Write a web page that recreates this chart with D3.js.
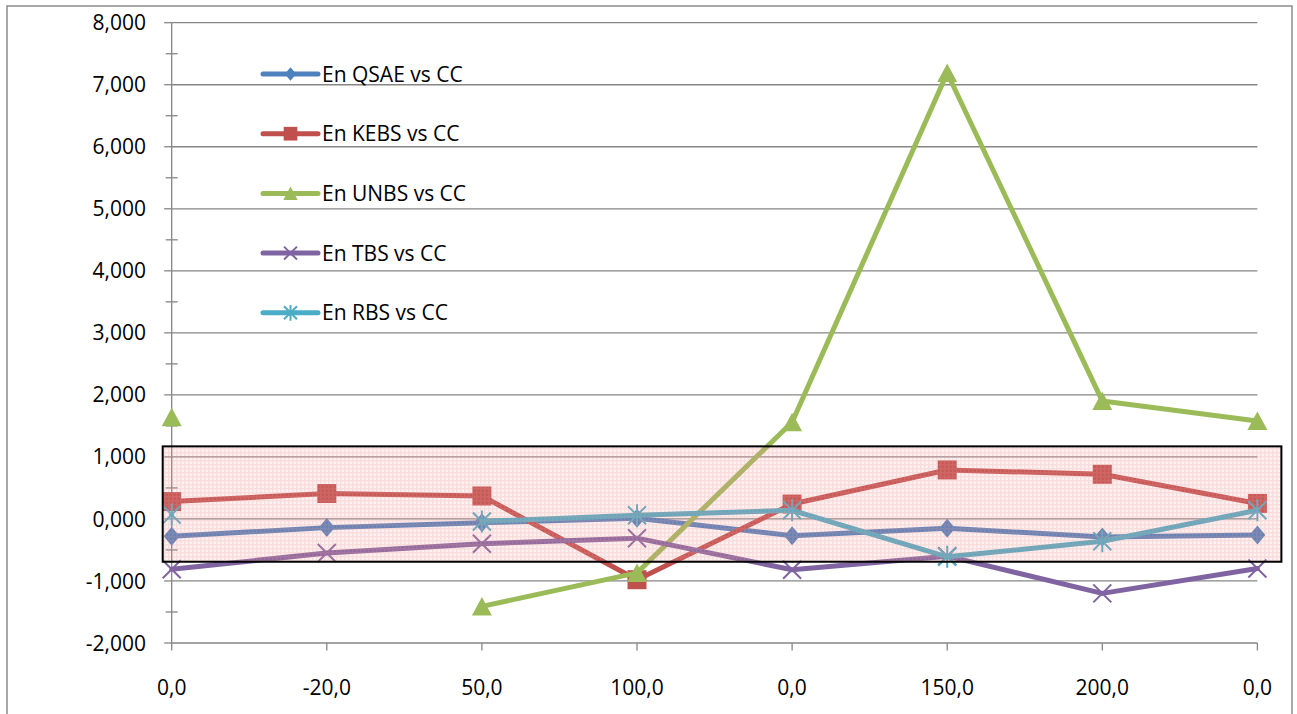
<!DOCTYPE html>
<html>
<head>
<meta charset="utf-8">
<script src="https://cdn.jsdelivr.net/npm/d3@7"></script>
<style>
  body { margin: 0; background: #fff; }
  text { font-family: "Open Sans", "Lato", sans-serif; fill: #000; }
</style>
</head>
<body>
<div id="chart"></div>
<script>
// categories along the x axis (as printed)
const categories = ['0,0', '-20,0', '50,0', '100,0', '0,0', '150,0', '200,0', '0,0'];

// series values (null = no point)
const qsae = [-0.28, -0.14, -0.06, 0.01, -0.27, -0.15, -0.29, -0.26];
const kebs = [0.28, 0.41, 0.37, -0.98, 0.24, 0.79, 0.72, 0.25];
const unbs = [1.64, null, -1.41, -0.87, 1.56, 7.19, 1.90, 1.58];
const tbs  = [-0.81, -0.55, -0.40, -0.31, -0.82, -0.60, -1.20, -0.80];
const rbs  = [0.07, null, -0.04, 0.06, 0.14, -0.61, -0.36, 0.14];

const seriesNames = ['En QSAE vs CC', 'En KEBS vs CC', 'En UNBS vs CC', 'En TBS vs CC', 'En RBS vs CC'];
const yTicks = [-2, -1, 0, 1, 2, 3, 4, 5, 6, 7, 8];

// highlighted band (data units)
const bandTop = 1.17;
const bandBottom = -0.69;

const W = 1297, H = 714;
const margin = {top: 22.7, left: 171.7, right: W - 1257.4, bottom: H - 643};
const colors = ['#4F81BD', '#C0504D', '#9BBB59', '#8064A2', '#4BACC6'];
const shapes = ['diamond', 'square', 'triangle', 'x', 'star'];
const allSeries = [qsae, kebs, unbs, tbs, rbs];

const svg = d3.select('#chart').append('svg')
  .attr('width', W).attr('height', H);

// pink grid pattern for the band
const defs = svg.append('defs');
const pat = defs.append('pattern')
  .attr('id', 'pinkgrid').attr('patternUnits', 'userSpaceOnUse')
  .attr('width', 4).attr('height', 4);
pat.append('rect').attr('width', 4).attr('height', 4).attr('fill', '#ee9999').attr('fill-opacity', 0.13);
pat.append('path').attr('d', 'M0,0.75H4M0.75,0V4')
  .attr('stroke', '#e89090').attr('stroke-opacity', 0.22).attr('stroke-width', 1.5);

// outer chart border
svg.append('rect')
  .attr('x', 7).attr('y', 6).attr('width', 1285).attr('height', 720)
  .attr('fill', 'none').attr('stroke', '#8c8c8c').attr('stroke-width', 1.5);

const x = d3.scalePoint()
  .domain(d3.range(categories.length))
  .range([margin.left, W - margin.right]);

const y = d3.scaleLinear()
  .domain([-2, 8])
  .range([H - margin.bottom, margin.top]);

const fmt = v => d3.format('.3f')(v).replace('.', ',').replace('−', '-');
const axisColor = '#868686';

// gridlines
svg.append('g').selectAll('line')
  .data(yTicks.filter(t => t !== -2))
  .join('line')
  .attr('x1', margin.left).attr('x2', W - margin.right)
  .attr('y1', d => y(d)).attr('y2', d => y(d))
  .attr('stroke', axisColor).attr('stroke-width', 1.3);

// y axis
const yAxis = svg.append('g');
yAxis.append('line')
  .attr('x1', margin.left).attr('x2', margin.left)
  .attr('y1', y(8)).attr('y2', y(-2))
  .attr('stroke', axisColor).attr('stroke-width', 1.3);
yAxis.selectAll('.major').data(yTicks).join('line')
  .attr('x1', margin.left - 7.5).attr('x2', margin.left)
  .attr('y1', d => y(d)).attr('y2', d => y(d))
  .attr('stroke', axisColor).attr('stroke-width', 1.3);
yAxis.selectAll('.minor').data(yTicks.slice(0, -1).map(t => t + 0.5)).join('line')
  .attr('x1', margin.left - 6).attr('x2', margin.left + 6)
  .attr('y1', d => y(d)).attr('y2', d => y(d))
  .attr('stroke', axisColor).attr('stroke-width', 1.3);
yAxis.selectAll('text').data(yTicks).join('text')
  .attr('x', 146).attr('y', d => y(d)).attr('dy', '0.36em')
  .attr('text-anchor', 'end').attr('font-size', 21)
  .text(fmt);

// x axis
const xAxis = svg.append('g');
xAxis.append('line')
  .attr('x1', margin.left).attr('x2', W - margin.right)
  .attr('y1', y(-2)).attr('y2', y(-2))
  .attr('stroke', axisColor).attr('stroke-width', 1.3);
xAxis.selectAll('.tick').data(d3.range(categories.length)).join('line')
  .attr('x1', d => x(d)).attr('x2', d => x(d))
  .attr('y1', y(-2)).attr('y2', y(-2) + 7.5)
  .attr('stroke', axisColor).attr('stroke-width', 1.3);
xAxis.selectAll('text').data(categories).join('text')
  .attr('x', (d, i) => x(i)).attr('y', 687).attr('dy', '0.36em')
  .attr('text-anchor', 'middle').attr('font-size', 21)
  .text(d => d);

// marker drawing
function drawMarker(g, shape, color, k) {
  const s = k;
  if (shape === 'diamond') {
    g.append('path').attr('d', `M0,${-9.5 * s}L${8 * s},0L0,${9.5 * s}L${-8 * s},0Z`).attr('fill', color);
  } else if (shape === 'square') {
    g.append('rect').attr('x', -9.5 * s).attr('y', -9.5 * s)
      .attr('width', 19 * s).attr('height', 19 * s).attr('fill', color);
  } else if (shape === 'triangle') {
    g.append('path').attr('d', `M0,${-9.5 * s}L${10 * s},${9 * s}L${-10 * s},${9 * s}Z`).attr('fill', color);
  } else if (shape === 'x') {
    g.append('path').attr('d', `M${-9 * s},${-9 * s}L${9 * s},${9 * s}M${9 * s},${-9 * s}L${-9 * s},${9 * s}`)
      .attr('stroke', color).attr('stroke-width', 2).attr('fill', 'none');
  } else {
    g.append('path').attr('d', `M${-9 * s},${-9 * s}L${9 * s},${9 * s}M${9 * s},${-9 * s}L${-9 * s},${9 * s}M0,${-11 * s}L0,${11 * s}`)
      .attr('stroke', color).attr('stroke-width', 2).attr('fill', 'none');
  }
}

const line = d3.line()
  .defined(d => d.v !== null)
  .x(d => x(d.i))
  .y(d => y(d.v));

const plot = svg.append('g');
allSeries.forEach((vals, si) => {
  const pts = vals.map((v, i) => ({i, v}));
  plot.append('path')
    .datum(pts)
    .attr('fill', 'none')
    .attr('stroke', colors[si])
    .attr('stroke-width', 5)
    .attr('stroke-linejoin', 'round')
    .attr('stroke-linecap', 'round')
    .attr('d', line);
  pts.filter(p => p.v !== null).forEach(p => {
    const g = plot.append('g').attr('transform', `translate(${x(p.i)},${y(p.v)})`);
    drawMarker(g, shapes[si], colors[si], 1);
  });
});

// legend
const legend = svg.append('g');
seriesNames.forEach((name, si) => {
  const ly = 74 + si * 59.7;
  legend.append('line')
    .attr('x1', 263).attr('x2', 318).attr('y1', ly).attr('y2', ly)
    .attr('stroke', colors[si]).attr('stroke-width', 5).attr('stroke-linecap', 'round');
  const g = legend.append('g').attr('transform', `translate(290.5,${ly})`);
  drawMarker(g, shapes[si], colors[si], 0.72);
  legend.append('text')
    .attr('x', 322).attr('y', ly).attr('dy', '0.36em')
    .attr('font-size', 21)
    .text(name);
});

// highlighted band drawn over the series
svg.append('rect')
  .attr('x', x(0) - 9).attr('y', y(bandTop))
  .attr('width', x(categories.length - 1) - x(0) + 33)
  .attr('height', y(bandBottom) - y(bandTop))
  .attr('fill', 'url(#pinkgrid)')
  .attr('stroke', '#000').attr('stroke-width', 2);
</script>
</body>
</html>
